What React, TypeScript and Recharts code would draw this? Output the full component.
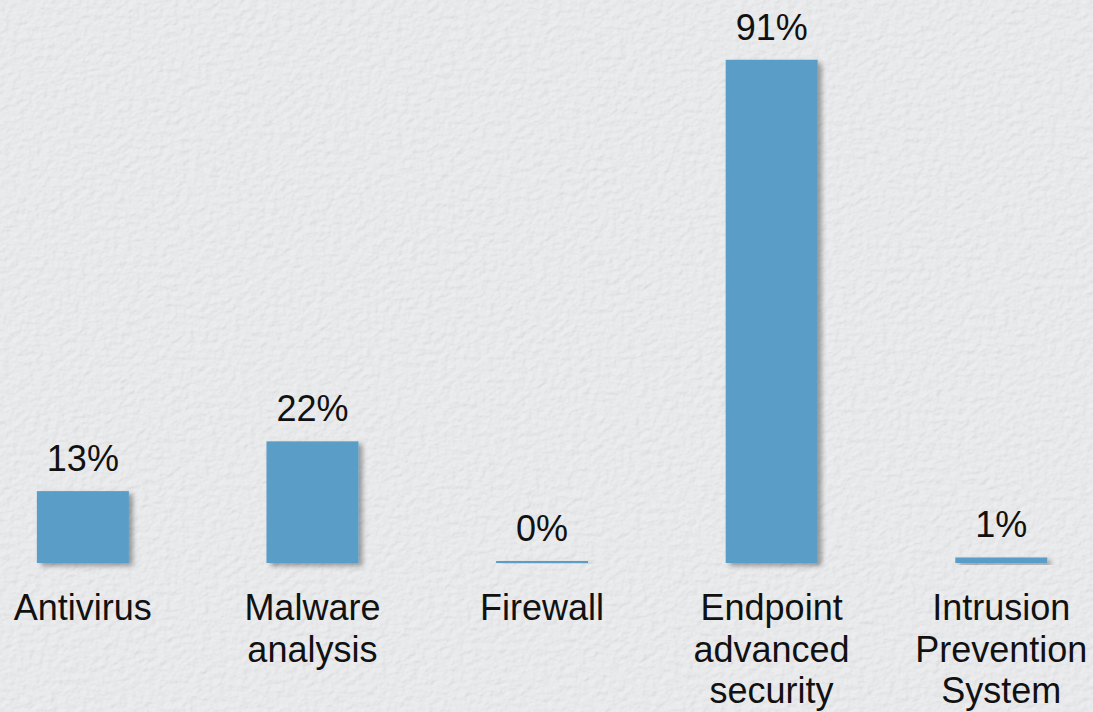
import React from 'react';
import { BarChart, Bar, XAxis, YAxis, LabelList } from 'recharts';

// Share of each security technology
const categories = [
  'Antivirus',
  'Malware analysis',
  'Firewall',
  'Endpoint advanced security',
  'Intrusion Prevention System',
];
const categoryLines = [
  ['Antivirus'],
  ['Malware', 'analysis'],
  ['Firewall'],
  ['Endpoint', 'advanced', 'security'],
  ['Intrusion', 'Prevention', 'System'],
];
const shareValues = [13, 22, 0, 91, 1];

const data = categories.map((category, i) => ({ category, share: shareValues[i] }));

const FONT = '"Liberation Sans", Arial, Helvetica, sans-serif';
const BAR_COLOR = '#5a9ec8';
const PAGE_W = 1093;
const PAGE_H = 712;

function CategoryTick(props: any) {
  const { x, y, payload } = props;
  const idx = categories.indexOf(payload.value);
  const lines = categoryLines[idx] || [payload.value];
  return (
    <text x={x} y={y + 57} textAnchor="middle" fontFamily={FONT} fontSize={36} fill="#111">
      {lines.map((line, i) => (
        <tspan key={line} x={x} dy={i === 0 ? 0 : 41.5}>
          {line}
        </tspan>
      ))}
    </text>
  );
}

function ValueLabel(props: any) {
  const { x, y, width, value } = props;
  return (
    <text
      x={x + width / 2}
      y={y - 20}
      textAnchor="middle"
      fontFamily={FONT}
      fontSize={36}
      fill="#111"
    >
      {`${value}%`}
    </text>
  );
}

function ShadowBar(props: any) {
  const { x, y, width, height, fill } = props;
  if (width == null || height == null) return null;
  return <rect x={x} y={y} width={width} height={Math.max(height, 0)} fill={fill} filter="url(#barShadow)" />;
}

export default function App() {
  return (
    <div
      style={{
        position: 'fixed',
        left: 0,
        top: 0,
        width: PAGE_W,
        height: PAGE_H,
        overflow: 'hidden',
        background: '#e6e7e9',
      }}
    >
      <svg width={PAGE_W} height={PAGE_H} style={{ position: 'absolute', left: 0, top: 0 }}>
        <defs>
          <filter id="paper" x="0" y="0" width="100%" height="100%">
            <feTurbulence type="fractalNoise" baseFrequency="0.13 0.17" numOctaves={3} seed={7} result="noise" />
            <feDiffuseLighting in="noise" lightingColor="#ffffff" surfaceScale={1.4} result="lit">
              <feDistantLight azimuth={225} elevation={60} />
            </feDiffuseLighting>
          </filter>
          <filter id="barShadow" x="-20%" y="-20%" width="150%" height="150%">
            <feDropShadow dx={4} dy={3} stdDeviation={2.5} floodColor="#000" floodOpacity={0.35} />
          </filter>
        </defs>
        <rect x={0} y={0} width={PAGE_W} height={PAGE_H} fill="#e6e7e9" />
        <rect x={0} y={0} width={PAGE_W} height={PAGE_H} filter="url(#paper)" opacity={0.3} />
      </svg>
      <div style={{ position: 'absolute', left: -32, top: 0 }}>
        <BarChart
          width={1148}
          height={PAGE_H}
          data={data}
          margin={{ top: 10, right: 0, bottom: 0, left: 0 }}
          barCategoryGap="30%"
        >
          <XAxis
            dataKey="category"
            axisLine={false}
            tickLine={false}
            tickSize={0}
            tickMargin={0}
            height={149}
            interval={0}
            tick={<CategoryTick />}
          />
          <YAxis hide domain={[0, 100]} />
          <Bar
            dataKey="share"
            fill={BAR_COLOR}
            minPointSize={2}
            isAnimationActive={false}
            shape={<ShadowBar />}
          >
            <LabelList dataKey="share" content={<ValueLabel />} />
          </Bar>
        </BarChart>
      </div>
    </div>
  );
}
